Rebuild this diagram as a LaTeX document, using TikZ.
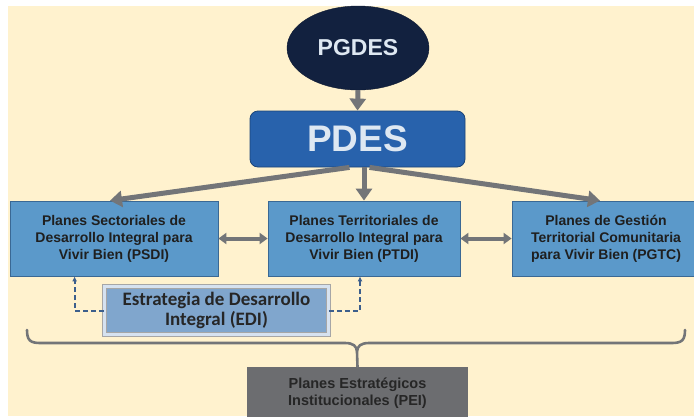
\documentclass[tikz,border=0pt]{standalone}
\usepackage{fontspec}
\setmainfont{Liberation Sans}
\newfontfamily\edifont{Carlito}
\usetikzlibrary{arrows.meta,shapes.geometric}

\definecolor{bgcream}{RGB}{255,242,206}
\definecolor{navy}{RGB}{18,33,63}
\definecolor{pdesblue}{RGB}{40,98,172}
\definecolor{boxblue}{RGB}{91,153,202}
\definecolor{boxline}{RGB}{58,104,148}
\definecolor{edifill}{RGB}{128,166,205}
\definecolor{edilight}{RGB}{214,226,240}
\definecolor{arrowgray}{RGB}{115,117,120}
\definecolor{peigray}{RGB}{108,109,112}
\definecolor{dashblue}{RGB}{60,95,140}
\definecolor{lighttext}{RGB}{222,232,242}

\def\boxht{75}
\def\boxy{238.5}

\tikzset{
  planbox/.style={draw=boxline, fill=boxblue, line width=0.8pt, minimum height=\boxht,
    align=center, font=\bfseries\fontsize{14}{17}\selectfont, text=black!88},
  bigarrow/.style={draw=arrowgray, line width=5pt, -{Triangle[length=12pt,width=16pt]}},
  twoway/.style={draw=arrowgray, line width=4pt, {Triangle[length=8pt,width=11pt]}-{Triangle[length=8pt,width=11pt]}},
  dashlink/.style={draw=dashblue, line width=2pt, dash pattern=on 5pt off 3pt, -{Latex[length=5pt,width=5pt]}}
}

\begin{document}
\begin{tikzpicture}[x=1pt,y=-1pt]
  \useasboundingbox (0,0) rectangle (694,416);
  \fill[bgcream] (8,6) rectangle (694,416);

  \node[ellipse, fill=navy, draw=navy!80!black, minimum width=142, minimum height=84,
    text=lighttext, font=\bfseries\fontsize{23}{26}\selectfont] (pgdes) at (358,48) {PGDES};
  \node[rounded corners=8pt, fill=pdesblue, draw=pdesblue!70!black, line width=0.8pt,
    minimum width=215, minimum height=56, text=lighttext,
    font=\bfseries\fontsize{37}{40}\selectfont] (pdes) at (357.5,139) {PDES};

  \foreach \name/\cx/\bw/\txt in {psdi/114/208/{Planes Sectoriales de\\Desarrollo Integral para\\Vivir Bien (PSDI)},
      ptdi/364/192/{Planes Territoriales de\\Desarrollo Integral para\\Vivir Bien (PTDI)},
      pgtc/606/188/{Planes de Gestión\\Territorial Comunitaria\\para Vivir Bien (PGTC)}} {
    \node[planbox, minimum width=\bw] (\name) at (\cx,\boxy) {\txt};
  }

  \node[fill=edifill, draw=black!35, double=edilight, double distance=3pt, line width=0.6pt,
    minimum width=224, minimum height=48, align=center, text=black!85, inner sep=2pt,
    font=\edifont\bfseries\fontsize{19}{20}\selectfont] (edi) at (216.5,310.5)
    {Estrategia de Desarrollo\\Integral (EDI)};

  \node[fill=peigray, minimum width=221, minimum height=53, align=center, text=black!85,
    font=\bfseries\fontsize{14.5}{17}\selectfont] (pei) at (357.5,393.5)
    {Planes Estratégicos\\Institucionales (PEI)};

  \draw[bigarrow] (pgdes.south) -- (pdes.north);
  \draw[bigarrow] ([xshift=-8pt]pdes.south) -- ([xshift=-4pt]psdi.north);
  \draw[bigarrow] (pdes.south -| ptdi.north) -- (ptdi.north);
  \draw[bigarrow] ([xshift=12pt]pdes.south) -- ([xshift=-6pt]pgtc.north);

  \draw[twoway] (psdi) -- (ptdi);
  \draw[twoway] (ptdi) -- (pgtc);

  \draw[dashlink] (edi.west) -| ([xshift=65pt]psdi.south west);
  \draw[dashlink] (edi.east) -| ([xshift=-4pt]ptdi.south);

  % llave hacia el PEI
  \draw[arrowgray, line width=2.6pt, line cap=round]
    (27,330) .. controls (27,340) and (30,343) .. (40,343) -- (345,343)
    .. controls (353,343) and (357,346) .. (357,352) -- (pei.north)
    (357,352) .. controls (357,346) and (361,343) .. (369,343) -- (672,343)
    .. controls (682,343) and (685,340) .. (685,330);
\end{tikzpicture}
\end{document}
